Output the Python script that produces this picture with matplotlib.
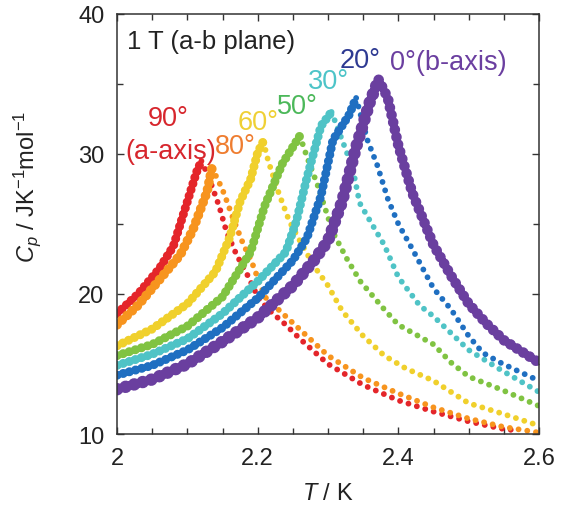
import numpy as np
import matplotlib
matplotlib.use("Agg")
import matplotlib.pyplot as plt
from matplotlib.ticker import MultipleLocator

plt.rcParams['font.family'] = ['Liberation Sans', 'DejaVu Sans']
plt.rcParams['mathtext.fontset'] = 'custom'
plt.rcParams['mathtext.rm'] = 'Liberation Sans'
plt.rcParams['mathtext.it'] = 'Liberation Sans:italic'

# Cp(T), one pair of lists per field angle
T_90 = [2.00, 2.03, 2.06, 2.08, 2.10, 2.113, 2.12, 2.13, 2.145, 2.156, 2.17, 2.185, 2.20,
        2.215, 2.24, 2.26, 2.30, 2.35, 2.40, 2.45, 2.50, 2.545, 2.56]
Cp_90 = [18.6, 20.0, 21.8, 23.4, 26.6, 28.7, 29.5, 28.4, 26.3, 24.4, 22.8, 21.4, 19.8,
         18.9, 17.8, 16.8, 15.0, 13.5, 12.4, 11.6, 10.9, 10.4, 10.3]

T_80 = [2.00, 2.03, 2.06, 2.09, 2.108, 2.128, 2.135, 2.145, 2.152, 2.165, 2.18, 2.19, 2.21,
        2.24, 2.27, 2.30, 2.35, 2.40, 2.45, 2.50, 2.55, 2.60]
Cp_80 = [17.8, 19.2, 21.0, 22.8, 24.6, 27.3, 29.0, 28.0, 27.2, 25.4, 23.5, 22.5, 19.8,
         18.4, 17.0, 15.6, 14.0, 12.9, 11.9, 11.1, 10.5, 10.1]

T_60 = [2.00, 2.05, 2.10, 2.14, 2.16, 2.175, 2.19, 2.20, 2.208, 2.215, 2.23, 2.245, 2.26,
        2.28, 2.30, 2.32, 2.35, 2.38, 2.41, 2.45, 2.50, 2.545, 2.60]
Cp_60 = [16.3, 17.5, 19.3, 21.6, 24.0, 26.6, 28.2, 30.1, 30.9, 29.5, 27.2, 25.2, 23.8,
         22.0, 20.6, 18.8, 17.0, 15.6, 14.7, 13.8, 12.2, 11.5, 10.6]

T_50 = [2.00, 2.05, 2.10, 2.15, 2.19, 2.21, 2.235, 2.26, 2.27, 2.285, 2.307, 2.327, 2.346,
        2.38, 2.40, 2.45, 2.475, 2.50, 2.545, 2.60]
Cp_50 = [15.6, 16.4, 17.7, 19.8, 23.0, 26.3, 29.3, 31.3, 29.8, 27.8, 24.4, 22.5, 20.9,
         18.9, 17.8, 16.4, 15.1, 14.1, 13.2, 12.0]

T_30 = [2.00, 2.05, 2.10, 2.15, 2.20, 2.24, 2.255, 2.27, 2.29, 2.305, 2.32, 2.335, 2.345,
        2.36, 2.38, 2.40, 2.43, 2.45, 2.50, 2.545, 2.60]
Cp_30 = [14.9, 15.7, 16.8, 18.6, 20.9, 23.0, 25.2, 28.3, 32.0, 33.0, 31.0, 29.0, 26.5,
         25.2, 23.5, 21.2, 19.2, 18.4, 16.0, 14.6, 13.0]

T_20 = [2.00, 2.05, 2.10, 2.15, 2.20, 2.25, 2.27, 2.29, 2.307, 2.33, 2.34, 2.356, 2.37,
        2.385, 2.40, 2.42, 2.45, 2.475, 2.50, 2.52, 2.545, 2.57, 2.60]
Cp_20 = [14.2, 14.9, 16.0, 17.6, 19.7, 22.4, 24.0, 27.0, 31.0, 32.8, 34.0, 31.0, 29.2,
         26.8, 25.0, 23.2, 20.4, 18.9, 17.0, 15.8, 15.1, 14.5, 13.8]

T_0 = [2.00, 2.05, 2.10, 2.15, 2.20, 2.25, 2.28, 2.30, 2.32, 2.34, 2.36, 2.372, 2.385,
       2.40, 2.42, 2.45, 2.475, 2.50, 2.525, 2.55, 2.575, 2.60]
Cp_0 = [13.2, 13.9, 15.0, 16.6, 18.3, 20.6, 22.4, 23.8, 26.6, 30.5, 33.8, 35.3, 34.0,
        30.6, 27.2, 23.5, 21.3, 19.3, 17.9, 16.7, 15.9, 15.1]

curves = [
    (T_90, Cp_90, '#e4252a', 6.5, True),
    (T_80, Cp_80, '#f7941e', 7, True),
    (T_60, Cp_60, '#f0d02c', 6.5, True),
    (T_50, Cp_50, '#80c342', 6.5, True),
    (T_30, Cp_30, '#4fc3c6', 6.5, True),
    (T_20, Cp_20, '#1f6fc1', 6.5, True),
    (T_0, Cp_0, '#6a3f9f', 9, False),
]

labels = [
    ('90°', 2.044, 32.6, '#d7262d'),
    ('(a-axis)', 2.012, 30.2, '#d7262d'),
    ('80°', 2.139, 30.6, '#ef7d30'),
    ('60°', 2.171, 32.3, '#efd035'),
    ('50°', 2.228, 33.4, '#4cb85a'),
    ('30°', 2.272, 35.2, '#4dc4c8'),
    ('20°', 2.317, 36.7, '#2e3a92'),
    ('0°(b-axis)', 2.388, 36.6, '#6b3fa0'),
]

fig = plt.figure(figsize=(5.62, 5.06), dpi=100)
ax = fig.add_axes([0.2082, 0.1403, 0.7509, 0.8301])

# rising side: dense overlapping dots, falling side: sparse dots
for T, Cp, col, lw, dotted_tail in curves:
    T = np.array(T)
    Cp = np.array(Cp)
    k = int(np.argmax(Cp))
    ax.plot(T[:k + 1], Cp[:k + 1], color=col, lw=lw, linestyle=(0, (0.01, 0.7)),
            dash_capstyle='round')
    if dotted_tail:
        ax.plot(T[k:], Cp[k:], color=col, lw=4.2, linestyle=(0, (0.01, 1.5)),
                dash_capstyle='round')
    else:
        ax.plot(T[k:], Cp[k:], color=col, lw=lw * 0.85, linestyle=(0, (0.01, 0.7)),
                dash_capstyle='round')

for txt, x, y, col in labels:
    ax.text(x, y, txt, color=col, fontsize=19.5, ha='left', va='center')

ax.text(0.024, 0.936, '1 T (a-b plane)', transform=ax.transAxes, fontsize=18.5,
        color='#222222', ha='left', va='center')

ax.set_xlim(2, 2.6)
ax.set_ylim(10, 40)
ax.xaxis.set_minor_locator(MultipleLocator(0.05))
ax.yaxis.set_major_locator(MultipleLocator(10))
ax.yaxis.set_minor_locator(MultipleLocator(5))
ax.set_xticks([2, 2.2, 2.4, 2.6])
ax.set_xticklabels(['2', '2.2', '2.4', '2.6'])

ax.tick_params(which='both', direction='in', top=True, right=True,
               colors='#333333', labelcolor='#222222', labelsize=17, width=1.0)
ax.tick_params(which='major', length=5, pad=9)
ax.tick_params(which='minor', length=4)
for s in ax.spines.values():
    s.set_color('#333333')
    s.set_linewidth(1.1)

ax.set_xlabel('$T$ / K', fontsize=17, color='#222222', labelpad=10)
ax.set_ylabel('$C_p$ / JK$^{-1}$mol$^{-1}$', fontsize=17, color='#222222')
ax.yaxis.set_label_coords(-0.175, 0.59)

fig.savefig('out.png', dpi=100)
